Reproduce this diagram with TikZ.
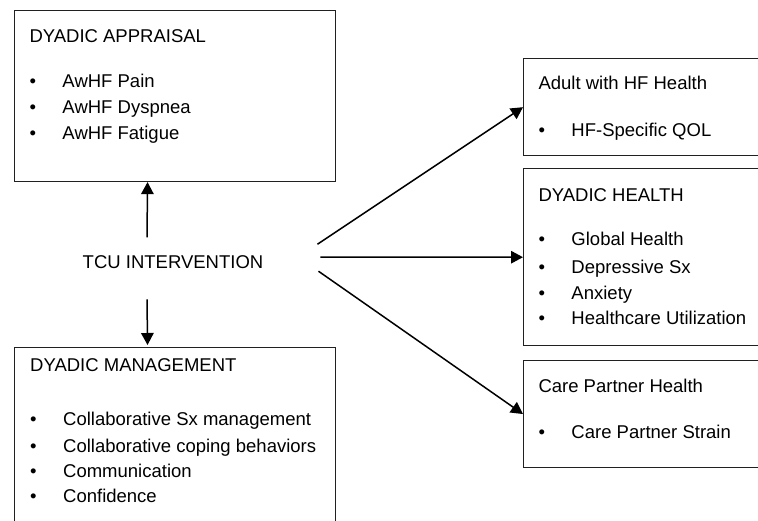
\documentclass[tikz,border=0pt]{standalone}
\usepackage{fontspec}
\setmainfont{Liberation Sans}
\usepackage{tikz}
\usetikzlibrary{arrows.meta}
\definecolor{boxline}{HTML}{202020}
\newcommand{\bitem}[1]{\makebox[33pt][l]{\textbullet}#1}

\begin{document}
\begin{tikzpicture}[x=1pt,y=-1pt,
 box/.style={draw=boxline,line width=1.1pt,anchor=north west,inner sep=0pt},
 lbl/.style={anchor=base west,inner sep=0pt,font=\fontsize{18.5}{22}\selectfont},
 flow/.style={-{Triangle[length=12pt,width=12.5pt]},line width=1.5pt}]
 \useasboundingbox (0,0) rectangle (758,521);
 \clip (0,0) rectangle (758,521);
 \node[box,minimum width=321pt,minimum height=171pt] (app) at (14,10) {};
 \node[box,minimum width=321pt,minimum height=200pt] (mgt) at (14,347) {};
 \node[box,minimum width=260pt,minimum height=96.7pt] (hfh) at (523,58.3) {};
 \node[box,minimum width=260pt,minimum height=176.7pt] (dh) at (523,168.3) {};
 \node[box,minimum width=260pt,minimum height=107pt] (cph) at (523,360) {};
 \node[lbl,anchor=base] (tcu) at (173,268.6) {TCU INTERVENTION};
 \node[lbl] (appT) at ([shift={(15.3,32.7)}]app.north west) {DYADIC APPRAISAL};
 \node[lbl] (app1) at ([shift={(15.3,77.3)}]app.north west) {\bitem{AwHF Pain}};
 \node[lbl] (app2) at ([shift={(15.3,103.3)}]app.north west) {\bitem{AwHF Dyspnea}};
 \node[lbl] (app3) at ([shift={(15.3,130)}]app.north west) {\bitem{AwHF Fatigue}};
 \node[lbl] (mgtT) at ([shift={(16,25)}]mgt.north west) {DYADIC MANAGEMENT};
 \node[lbl] (mgt1) at ([shift={(16,78.3)}]mgt.north west) {\bitem{Collaborative Sx management}};
 \node[lbl] (mgt2) at ([shift={(16,105)}]mgt.north west) {\bitem{Collaborative coping behaviors}};
 \node[lbl] (mgt3) at ([shift={(16,130)}]mgt.north west) {\bitem{Communication}};
 \node[lbl] (mgt4) at ([shift={(16,155.6)}]mgt.north west) {\bitem{Confidence}};
 \node[lbl] (hfhT) at ([shift={(15.3,31.7)}]hfh.north west) {Adult with HF Health};
 \node[lbl] (hfh1) at ([shift={(15.3,78.4)}]hfh.north west) {\bitem{HF-Specific QOL}};
 \node[lbl] (dhT) at ([shift={(15.3,33.4)}]dh.north west) {DYADIC HEALTH};
 \node[lbl] (dh1) at ([shift={(15.3,77.7)}]dh.north west) {\bitem{Global Health}};
 \node[lbl] (dh2) at ([shift={(15.3,105)}]dh.north west) {\bitem{Depressive Sx}};
 \node[lbl] (dh3) at ([shift={(15.3,131)}]dh.north west) {\bitem{Anxiety}};
 \node[lbl] (dh4) at ([shift={(15.3,156.7)}]dh.north west) {\bitem{Healthcare Utilization}};
 \node[lbl] (cphT) at ([shift={(15.3,32.7)}]cph.north west) {Care Partner Health};
 \node[lbl] (cph1) at ([shift={(15.3,78.3)}]cph.north west) {\bitem{Care Partner Strain}};
 \draw[flow] ([xshift=-26pt,yshift=18pt]tcu.north) -- ([xshift=-27.5pt]app.south);
 \draw[flow] ([xshift=-26pt,yshift=-30.4pt]tcu.south) -- ([xshift=-27.5pt,yshift=2pt]mgt.north);
 \draw[flow] ([xshift=54pt,yshift=18pt]tcu.east) -- (hfh.west);
 \draw[flow] ([xshift=57pt,yshift=5pt]tcu.east) -- (dh.west);
 \draw[flow] ([xshift=55pt,yshift=-9pt]tcu.east) -- (cph.west);
\end{tikzpicture}
\end{document}
